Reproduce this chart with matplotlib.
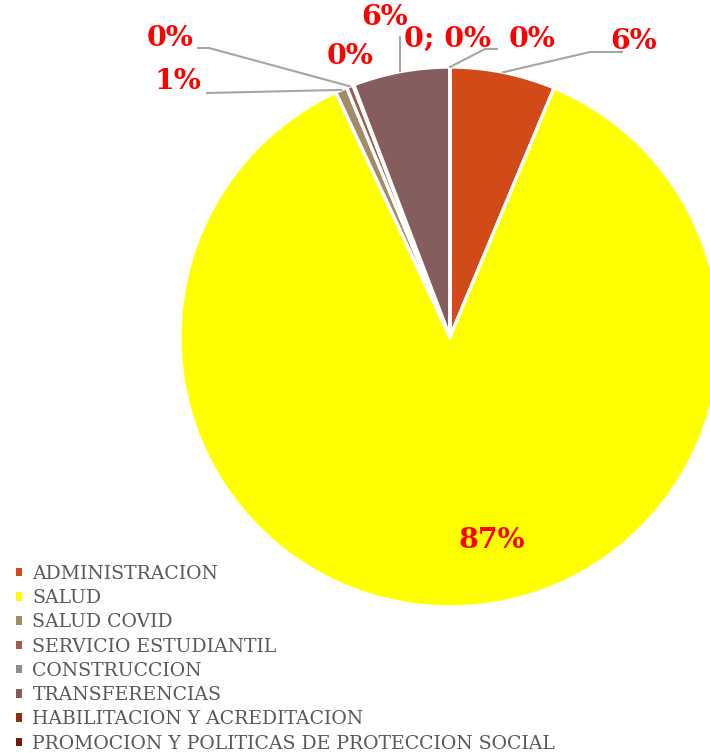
import numpy as np
import matplotlib
matplotlib.use("Agg")
import matplotlib.pyplot as plt

categories = ["ADMINISTRACION", "SALUD", "SALUD COVID", "SERVICIO ESTUDIANTIL",
              "CONSTRUCCION", "TRANSFERENCIAS", "HABILITACION Y ACREDITACION",
              "PROMOCION Y POLITICAS DE PROTECCION SOCIAL"]
shares = [6.3, 86.75, 0.7, 0.4, 0.05, 5.8, 0.0, 0.0]
label_texts = ["6%", "87%", "1%", "0%", "0%", "6%", "0%", "0; 0%"]
colors = ["#D24A17", "#FFFF00", "#A28B66", "#9E5E4B", "#948A8A",
          "#855D5D", "#8B2F10", "#6B1A14"]

W, H = 710, 753
fig = plt.figure(figsize=(W / 100, H / 100), dpi=100)
R = 270
cx, cy = 450, 337
ax = fig.add_axes([(cx - R) / W, (H - cy - R) / H, 2 * R / W, 2 * R / H])

wedges, _ = ax.pie(shares, colors=colors, startangle=90, counterclock=False,
                   radius=1, wedgeprops=dict(edgecolor="white", linewidth=2.4))
ax.set_xlim(-1, 1)
ax.set_ylim(-1, 1)
ax.set_aspect("equal")
ax.axis("off")
for w in wedges:
    w.set_clip_on(False)

total = sum(shares)
cum = np.cumsum([0] + shares)
mid_angles = [90 - 360 * (cum[i] + shares[i] / 2) / total for i in range(len(shares))]

def px(x, y):
    return ((x - cx) / R, (cy - y) / R)

lab_font = dict(color="red", fontsize=20.5, fontweight="bold", family="DejaVu Serif",
                ha="center", va="center")
# label text centres (pixel)
text_pos = [(634, 42), (492, 540), (178, 82), (170, 39), (350, 57),
            (385, 18), (532, 40), (448, 39)]
for i, (tx, ty) in enumerate(text_pos):
    x, y = px(tx, ty)
    ax.text(x, y, label_texts[i], clip_on=False, **lab_font)

lc = "#A6A6A6"
def edge_pt(i, r=1.0):
    a = np.deg2rad(mid_angles[i])
    return r * np.cos(a), r * np.sin(a)

# leader lines (pixel elbow points, endpoints on wedges)
leaders = {
    0: [(622, 52), (590, 52)],
    2: [(207, 93)],
    3: [(198, 48), (209, 48)],
    5: [(400, 37)],
    6: [(497, 49), (485, 49)],
}
for i, pts in leaders.items():
    xs = [px(*p)[0] for p in pts]
    ys = [px(*p)[1] for p in pts]
    ex, ey = edge_pt(i, 1.0)
    if i == 5:
        xs.append(xs[0]); ys.append(ey)
    else:
        xs.append(ex); ys.append(ey)
    ax.plot(xs, ys, color=lc, lw=1.5, clip_on=False)

leg = fig.legend(wedges, categories, loc="upper left",
                 bbox_to_anchor=(16 / W, 1 - 565 / H), frameon=False,
                 prop=dict(family="DejaVu Serif", size=13.6),
                 handlelength=0.32, handleheight=0.32, handletextpad=0.55,
                 labelspacing=0.33, borderaxespad=0, borderpad=0)
for t in leg.get_texts():
    t.set_color("#595959")
for h in leg.legend_handles:
    h.set_edgecolor("none")

fig.savefig("out.png", dpi=100)
